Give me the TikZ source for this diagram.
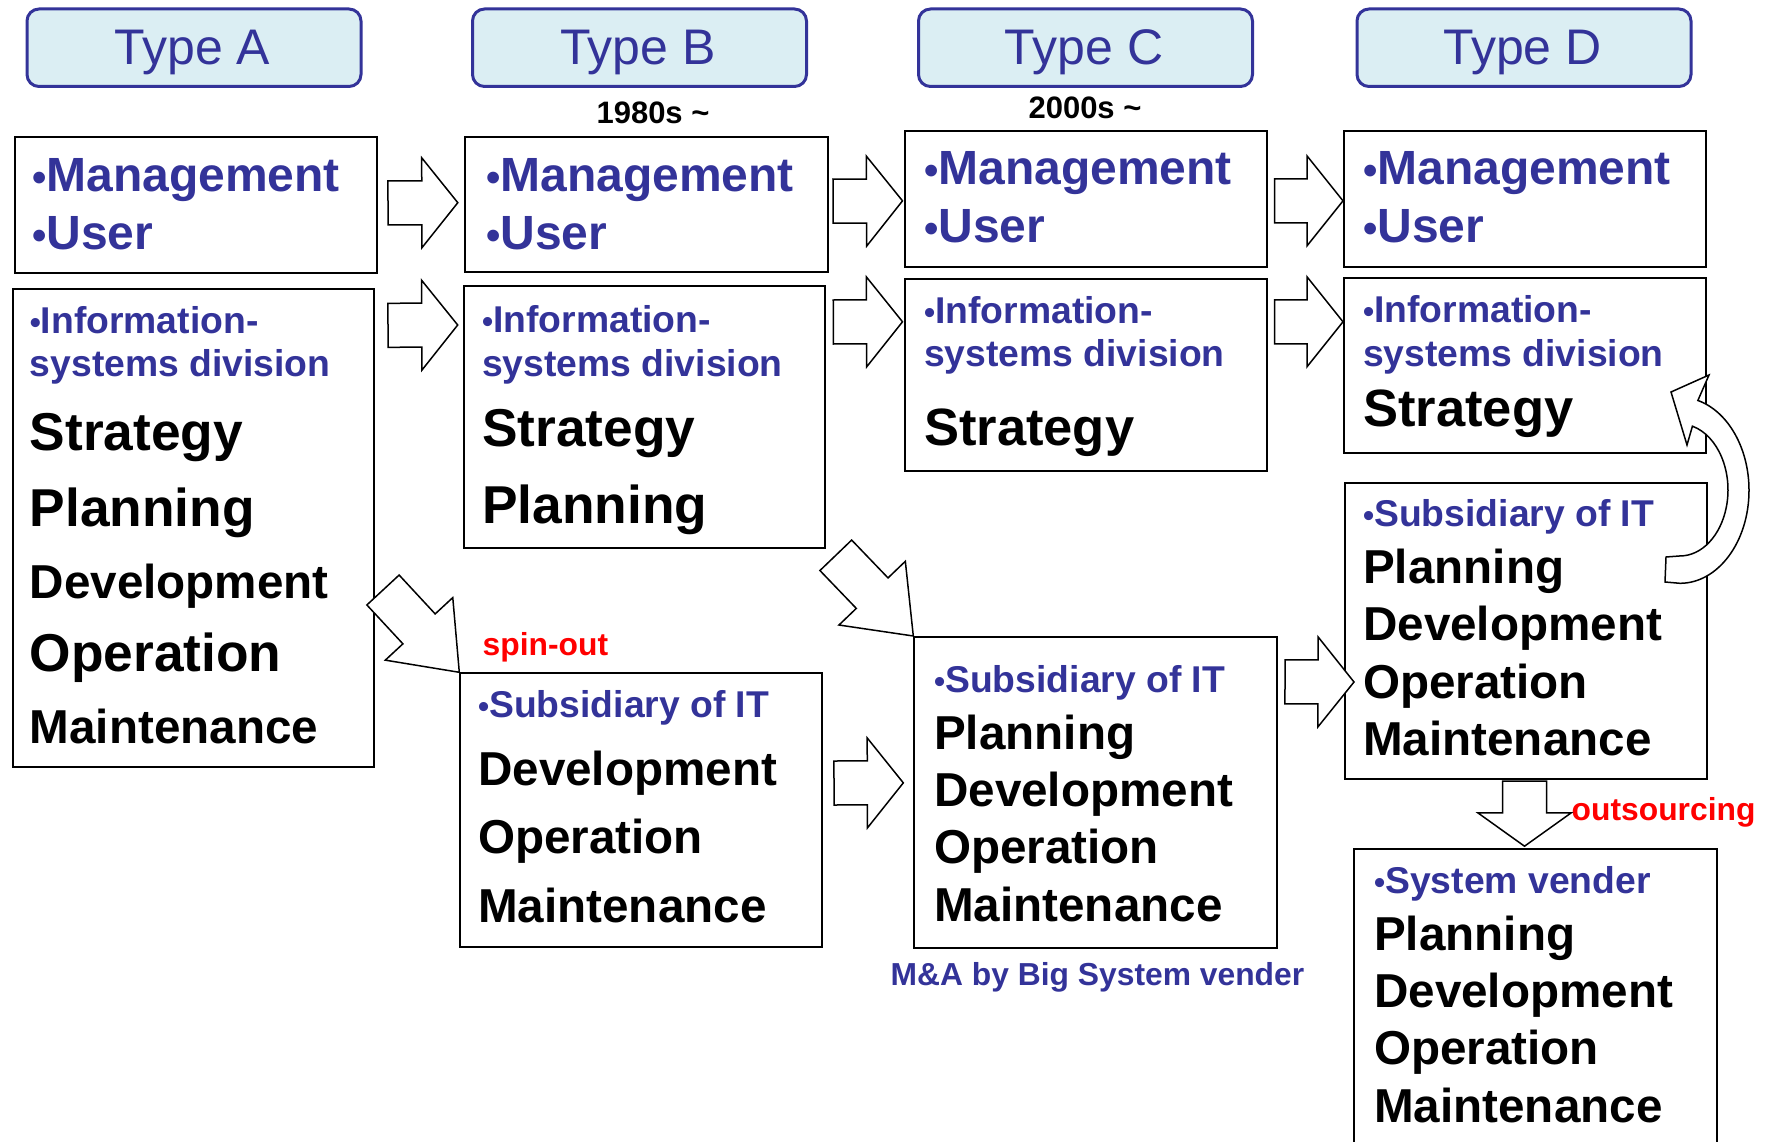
\documentclass[tikz,border=0pt]{standalone}
\usepackage{fontspec}
\usepackage{graphicx}
\setmainfont{Liberation Sans}
\usetikzlibrary{calc}
\definecolor{typeblue}{RGB}{51,51,153}
\definecolor{typefill}{RGB}{219,238,243}
\definecolor{noteRed}{RGB}{255,0,0}
\newcommand{\bul}{\scalebox{0.85}{\textbullet}}
\tikzset{
    typebox/.style = {draw=typeblue, fill=typefill, line width=3pt, rounded corners=12pt, anchor=north west, inner sep=0pt, minimum width=334pt, minimum height=77.5pt},
    typelabel/.style = {text=typeblue, anchor=base, inner sep=0pt, font=\fontsize{50pt}{60pt}\selectfont},
    datelabel/.style = {anchor=base, inner sep=0pt, font=\bfseries\fontsize{31pt}{37pt}\selectfont},
    colbox/.style = {draw, fill=white, line width=2pt, anchor=north west, inner sep=0pt},
    mgmttext/.style = {text=typeblue, anchor=base west, inner sep=0pt, font=\bfseries\fontsize{48pt}{56pt}\selectfont},
    bluehead/.style = {text=typeblue, anchor=base west, inner sep=0pt, font=\bfseries\fontsize{37.3pt}{44pt}\selectfont},
    bigitem/.style = {anchor=base west, inner sep=0pt, font=\bfseries\fontsize{53.3pt}{62pt}\selectfont},
    item/.style = {anchor=base west, inner sep=0pt, font=\bfseries\fontsize{47.6pt}{56pt}\selectfont},
    note/.style = {anchor=base west, inner sep=0pt, font=\bfseries\fontsize{31.8pt}{38pt}\selectfont},
    blockarrow/.style = {draw, fill=white, line width=1.5pt, line join=miter},
}
% block arrow: tail, tip, head length, head half width
\newcommand{\blockarrow}[4]{%
  \draw[blockarrow] let \p1=#1, \p2=#2, \n1={atan2(\y2-\y1,\x2-\x1)}, \n2={veclen(\x2-\x1,\y2-\y1)-#3} in
    ($(\p1)+(\n1+90:22pt)$) -- ($(\p1)+(\n1:\n2)+(\n1+90:22pt)$) -- ($(\p1)+(\n1:\n2)+(\n1+90:#4pt)$)
    -- (\p2) -- ($(\p1)+(\n1:\n2)+(\n1-90:#4pt)$) -- ($(\p1)+(\n1:\n2)+(\n1-90:22pt)$)
    -- ($(\p1)+(\n1-90:22pt)$) -- cycle;}
\begin{document}
\begin{tikzpicture}[x=1pt,y=-1pt]
\useasboundingbox (0,0) rectangle (1772,1142);

% headers
\foreach \c/\x in {A/25.5,B/471,C/917,D/1355.5} {
  \node[typebox] (type\c) at (\x,7.5) {};
  \node[typelabel] (typetxt\c) at (\x+167,65) {Type \c};
}
\node[datelabel] (dateB) at (653,123.3) {1980s \textasciitilde};
\node[datelabel] (dateC) at (1085,118.3) {2000s \textasciitilde};

% management / user
\node[colbox, minimum width=361.6pt, minimum height=135.7pt] (mA) at (14.4,136) {};
\node[colbox, minimum width=362.8pt, minimum height=135pt] (mB) at (463.8,135.7) {};
\node[colbox, minimum width=361.6pt, minimum height=135.7pt] (mC) at (904,130) {};
\node[colbox, minimum width=362pt, minimum height=135.7pt] (mD) at (1343,130) {};
\foreach \c/\x/\y in {A/32/191.7,B/486/191.7,C/924/185,D/1363/185} {
  \node[mgmttext] (mgmt\c) at (\x,\y) {\bul Management};
  \node[mgmttext] (user\c) at (\x,\y+57.5) {\bul User};
}

% information-systems division
\node[colbox, minimum width=361.5pt, minimum height=477.4pt] (iA) at (11.5,288.3) {};
\node[colbox, minimum width=361.6pt, minimum height=262.3pt] (iB) at (462.7,285) {};
\node[colbox, minimum width=361.6pt, minimum height=191.7pt] (iC) at (904,278.3) {};
\node[colbox, minimum width=362pt, minimum height=174.4pt] (iD) at (1343,277.3) {};
\foreach \c/\x/\y in {A/29.6/333.3,B/482/332.7,C/924/323.3,D/1363/322.7} {
  \node[bluehead] (info\c) at (\x,\y) {\bul Information-};
  \node[bluehead] (isd\c) at (\x,\y+43.5) {systems division};
}
\node[bigitem] (stratA) at (29.6,450) {Strategy};
\node[bigitem] (planA) at (29.6,526.7) {Planning};
\node[item] (devA) at (29.6,598.3) {Development};
\node[bigitem] (opA) at (29.6,671.7) {Operation};
\node[item] (mainA) at (29.6,743.3) {Maintenance};
\node[bigitem] (stratB) at (482,446.7) {Strategy};
\node[bigitem] (planB) at (482,523.3) {Planning};
\node[bigitem, font=\bfseries\fontsize{52.5pt}{62pt}\selectfont] (stratC) at (924,445) {Strategy};
\node[bigitem, font=\bfseries\fontsize{52.5pt}{62pt}\selectfont] (stratD) at (1363,426.7) {Strategy};

% subsidiaries and vender
\node[colbox, minimum width=361.7pt, minimum height=273.4pt] (sB) at (459.3,672.3) {};
\node[colbox, minimum width=362.7pt, minimum height=310.7pt] (sC) at (913.3,636) {};
\node[colbox, minimum width=361.4pt, minimum height=296pt] (sD) at (1344.3,481.7) {};
\node[colbox, minimum width=362.4pt, minimum height=330pt] (sV) at (1353.3,847.7) {};
\node[bluehead] (subB) at (478,717.3) {\bul Subsidiary of IT};
\node[item] (devB) at (478,785) {Development};
\node[item] (opB) at (478,853.3) {Operation};
\node[item] (mainB) at (478,922.7) {Maintenance};
\foreach \s/\x/\y/\head in {C/934/692.3/Subsidiary of IT,D/1363/526.7/Subsidiary of IT,V/1374/893.3/System vender} {
  \node[bluehead] (sub\s) at (\x,\y) {\bul\head};
  \node[item] (plan\s) at (\x,\y+57) {Planning};
  \node[item] (dev\s) at (\x,\y+114) {Development};
  \node[item] (op\s) at (\x,\y+171.5) {Operation};
  \node[item] (main\s) at (\x,\y+229) {Maintenance};
}

% notes
\node[note, text=noteRed] (spin) at (482.5,655) {spin-out};
\node[note, text=typeblue] (mna) at (890.5,985) {M\&A by Big System vender};
\node[note, text=noteRed] (outs) at (1571.5,820) {outsourcing};

% arrows
\blockarrow{($(mA.east)+(10,-2)$)}{($(mB.west)+(-6,-1.5)$)}{36}{45}
\blockarrow{($(mB.east)+(4.5,-3)$)}{($(mC.west)+(-1.5,2)$)}{36}{45}
\blockarrow{($(mC.east)+(7,2)$)}{($(mD.west)+(0,2)$)}{36}{45}
\blockarrow{($(iA.north east)+(13,37)$)}{($(iB.north west)+(-5,40)$)}{36}{45}
\blockarrow{($(iB.north east)+(7,37)$)}{($(iC.north west)+(-1.5,43.5)$)}{36}{45}
\blockarrow{($(iC.north east)+(7,43.5)$)}{($(iD.north west)+(0,44.5)$)}{36}{45}
\blockarrow{($(iA.east)+(8,62)$)}{(sB.north west)}{59}{46}
\blockarrow{($(iB.south east)+(9.5,6)$)}{(sC.north west)}{59}{46}
\blockarrow{($(sB.east)+(11,-27)$)}{($(sC.west)+(-10,-9.5)$)}{36}{45}
\blockarrow{($(sC.east)+(7,-110.5)$)}{($(sD.west)+(9.7,51.3)$)}{36}{45}
\blockarrow{($(sD.south)+(-1.5,1.5)$)}{($(sD.south |- sV.north)+(-1.5,-1.5)$)}{33.3}{46.6}
% curved arrow back to strategy
\draw[blockarrow] (1665,582) -- (1680,583.3) arc[start angle=90, end angle=-75, x radius=69, y radius=93]
  -- (1709,375) -- (1671,392) -- (1687,445) -- (1692.4,426.2)
  arc[start angle=-75, end angle=90, x radius=48, y radius=66] -- (1666,557) -- cycle;
\end{tikzpicture}
\end{document}
